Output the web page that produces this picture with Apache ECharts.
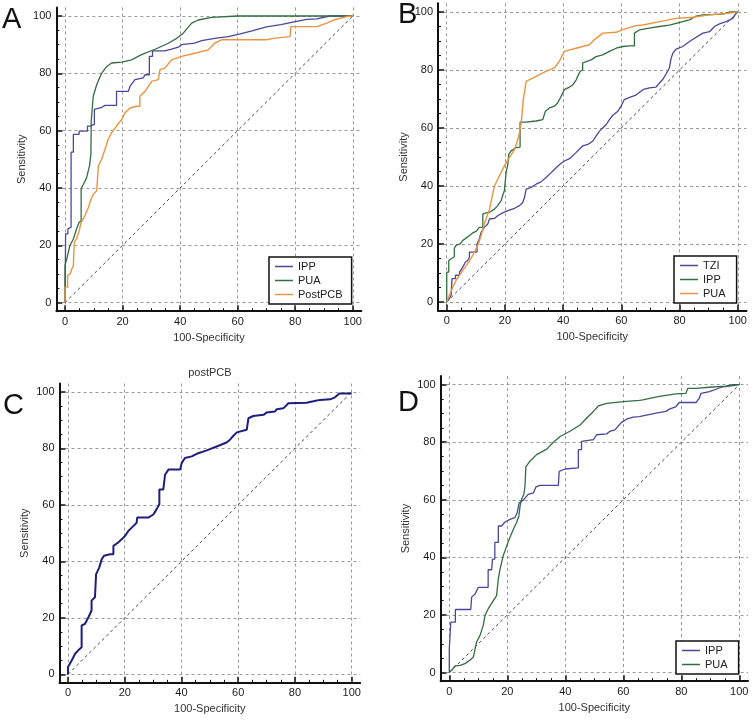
<!DOCTYPE html>
<html>
<head>
<meta charset="utf-8">
<script src="https://cdn.jsdelivr.net/npm/echarts@6/dist/echarts.min.js"></script>
<style>html,body{margin:0;padding:0;background:#fff}#c{width:753px;height:720px}</style>
</head>
<body>
<div id="c"></div>
<script>
// ---------- tick labels ----------
const majorTicks = [0, 20, 40, 60, 80, 100];
const minorTicks = [5, 10, 15, 25, 30, 35, 45, 50, 55, 65, 70, 75, 85, 90, 95];
const diagonal = [[0, 0], [100, 100]];
const panelLetters = ['A', 'B', 'C', 'D'];
const xAxisTitle = '100-Specificity';
const yAxisTitle = 'Sensitivity';
const panelCTitle = 'postPCB';

// ---------- Panel A ----------
const A_IPP = [[0,0],[0.2,0],[0.2,24],[1,24],[1,25.7],[2.1,26.3],[2.1,52.5],[2.9,52.5],[2.9,58.7],[4.9,58.7],[4.9,59.8],[7.8,59.8],[7.8,61.6],[8.7,61.6],[8.7,62.2],[10.2,62.2],[10.2,67.4],[12.5,68],[13.9,68.8],[17.9,68.8],[17.9,73.7],[22,73.7],[22.6,75.5],[24.3,77.8],[27.2,78.4],[27.8,79.5],[29.3,79.5],[29.3,85.9],[30.4,85.9],[30.4,87.8],[34.7,87.8],[37,88.4],[39.4,89.1],[40.5,90],[45,90.5],[47.5,91.4],[52,92.2],[56.7,92.8],[60.2,93.6],[65,94.8],[70,96.2],[75,97],[80,98],[84,98.8],[87.5,99],[87.5,99.5],[92,100],[100,100]];
const A_PUA = [[0,0],[0,13],[0.6,15.3],[1.7,19.9],[2.9,22.2],[4,25.7],[4.9,28],[5.6,28.5],[5.6,39.8],[6.4,41.3],[7.5,43.6],[8.5,47.7],[9,52],[9.1,63.3],[9.8,72],[11,76],[12.7,80],[14.5,82.4],[16.2,83.6],[19.7,83.9],[23.1,84.7],[26.6,86.5],[31.3,88.4],[35.9,90.5],[38.8,92.2],[41.1,94],[44,97.5],[46.3,98.6],[50.9,99.5],[60,100],[100,100]];
const A_PostPCB = [[0,0],[0,5.4],[0.9,5.4],[0.9,9.5],[1.7,10],[2.9,13],[3.2,13],[3.2,21],[4,22.2],[4.9,25],[5.6,28],[6.9,30.3],[8.1,33.2],[9,36],[9.8,37.8],[11,39],[11.6,39],[11.6,47.7],[12.7,50],[13.9,53.5],[15,57],[16.2,59.3],[17.9,61.6],[19.7,63.9],[20.8,66.2],[22.6,67.9],[24.9,68.5],[26,68.5],[26,72],[27.8,73.7],[30.1,77.2],[32.4,77.8],[33,77.8],[33,81.3],[34.7,81.8],[37,84.7],[40.5,85.9],[45.1,87],[49.8,88.2],[52,90.5],[54.4,91.7],[60.2,91.7],[70,91.7],[72.4,92.2],[78.2,92.8],[78.5,92.8],[78.5,96.3],[87.5,96.3],[91,97.5],[93.3,98.6],[97.9,99.8],[100,100]];

// ---------- Panel B ----------
const B_TZI = [[0,0],[0.9,1.1],[1.5,2.3],[1.8,2.3],[1.8,8],[3,8],[3,9.2],[4.4,9.2],[4.4,10.3],[5.5,12],[6.4,13.7],[7.2,14.3],[7.8,15.4],[7.8,17.2],[10.4,17.2],[10.4,20],[11.2,21.7],[11.8,24],[12.9,25.7],[14.1,26.9],[14.7,28.6],[16.4,28.8],[17.5,29.7],[19.2,30.7],[21,31.5],[23.3,32.3],[25,33.2],[26.1,34.3],[26.7,36],[27.3,38.9],[29,39.5],[30.7,40.6],[32.4,41.4],[34.1,42.9],[35.9,44.6],[37.6,46.3],[38.9,47.5],[40.4,48.6],[42.2,49.4],[44.4,51.5],[46.7,53.8],[48.5,54.3],[50.2,55.5],[51.3,57.2],[52.5,58.9],[53.6,60],[54.8,61.2],[55.9,62.9],[57,64.3],[58.8,65.8],[59.9,67.5],[61,69.8],[63.3,70.7],[64.8,71.2],[67.4,73.2],[69.6,73.8],[71.9,74.1],[73.1,75.5],[74.2,76.7],[75.4,78.7],[76.5,80.7],[77.1,80.7],[77.1,84.1],[77.7,85.8],[78.8,87.2],[81.1,88.1],[83.4,89.8],[85.7,91.3],[88,92.7],[90.3,93.2],[92,95],[93.7,95.9],[96,96.7],[98.3,97.8],[99.4,99.5],[100,100]];
const B_IPP = [[0,0],[0,10.3],[0.7,10.3],[0.7,14.3],[1.5,14.9],[2.6,15.5],[2.6,18.5],[3.2,19.5],[4.6,20],[5.5,21.2],[6.6,22],[7.8,22.9],[8.9,23.8],[10.1,24.3],[11.2,25.7],[12.4,25.7],[12.4,30.3],[13.5,30.7],[14.7,30.9],[15.2,31.5],[16.4,32],[17.5,33.2],[18.7,34.9],[19.2,36.6],[19.8,38.3],[20.4,38.3],[20.4,44.6],[21,47.5],[21.3,50.9],[22.1,52.1],[23.8,53.2],[25.2,53.4],[25.2,62],[27.3,62],[30.7,62.4],[33,62.9],[33.9,65.8],[35.3,66.9],[37,67.5],[38.1,68.6],[39.3,70.9],[40.4,73.2],[42.2,74.1],[43.3,74.9],[44.5,76.6],[45,77.8],[45.8,79.5],[46.7,80.1],[46.7,82.4],[47.9,82.9],[49.6,83.5],[51.3,84.6],[53.6,85.2],[55.9,86.4],[58.2,87.5],[60.5,88.1],[62.8,88.3],[64.5,88.3],[64.5,92.7],[66.2,93.8],[69.6,94.4],[73.1,95],[76.5,95.5],[78.8,96.1],[83.4,97.3],[85.7,98.6],[88,99],[94.8,99.3],[97.1,100],[100,100]];
const B_PUA = [[0,0],[0.9,2.3],[2.1,5.1],[3.2,7.4],[4.4,9.2],[5.5,10.9],[7.2,13.2],[8.9,16],[10.7,19.5],[11.8,22.9],[12.9,26.9],[14.7,32],[16.4,40],[18.1,43.5],[19.8,46.9],[21.5,49.8],[23.3,52.6],[24.4,56],[25,58.4],[25.6,61.8],[26.3,69.8],[27.3,76.1],[30.7,77.8],[34.1,79.5],[37,80.7],[38.7,83],[40.4,86.4],[44.4,87.5],[49,88.7],[50.7,90.4],[53.6,92.7],[58.2,93],[60.5,93.9],[65.1,95.3],[67.4,95.5],[73.1,96.7],[78.8,97.8],[84.5,98.2],[90.3,99],[96,99.5],[100,100]];

// ---------- Panel C ----------
const C_postPCB = [[0,0],[0,2.6],[0.7,3.2],[1.3,4.9],[2.5,7.3],[3.6,8.5],[4.8,9.6],[4.8,17.3],[6,17.9],[7.2,20.2],[8.3,22.6],[8.3,26.1],[9.5,27.3],[9.9,27.3],[9.9,35.5],[11,37.8],[11.9,40.8],[12.7,42],[14.8,42.5],[16,42.5],[16,45.5],[17.7,46.7],[18.9,47.8],[20.1,49],[21.3,50.8],[23,52.5],[24.2,53.7],[24.4,55.5],[28.3,55.5],[30.1,56.6],[31.3,58.6],[32.2,60.2],[32.2,65.5],[33.6,65.5],[34.2,70.7],[35.4,72.5],[39.5,72.5],[40.1,74.9],[41.2,76.6],[43.6,77.2],[45.4,78.1],[48.9,79.3],[52.4,80.7],[55.9,82.1],[57.1,83.1],[58.3,84.5],[59.5,85.7],[63,86.6],[63.6,90.7],[65.3,91.5],[68.9,91.9],[70,92.7],[73,93.1],[73.6,93.9],[75.9,94.2],[77.7,96],[84.1,96.2],[86.5,96.7],[88.8,97.2],[92.4,97.4],[94.1,98.1],[95.7,99.5],[100,99.5]];

// ---------- Panel D ----------
const D_IPP = [[0,0],[0,8.3],[0.5,8.3],[0.5,17.5],[2.1,17.5],[2.1,21.9],[7.4,21.9],[7.7,26.2],[8.9,27.3],[10,29.6],[13.4,29.6],[13.4,35.7],[14.6,35.7],[14.9,39.4],[15.7,39.4],[15.7,45.2],[16.9,45.2],[16.9,50.9],[18,50.9],[19.2,52.3],[20.9,53.2],[22.6,53.8],[23.4,55.5],[24.1,59],[25.5,59.9],[27.2,61.9],[29,62.4],[29.9,64.5],[31.3,65],[37.6,65],[37.9,69.9],[39.9,70.7],[44.5,71.1],[44.5,77.4],[45.6,77.4],[45.6,80.3],[49.7,80.9],[50.8,82.6],[54.3,82.9],[55.4,83.8],[57.1,84.3],[58.3,85.7],[59.4,86.9],[61.1,88],[63.4,88.7],[65.5,88.9],[71.3,90.1],[74.7,90.7],[75.9,91.5],[78.2,92.4],[79.3,93.8],[85.1,93.8],[86.2,95.3],[86.8,97],[89.7,97.6],[92,98.4],[93.7,99.1],[96.6,99.5],[100,100]];
const D_PUA = [[0,0],[0.8,0.8],[2,2.3],[3.7,2.5],[5.4,3.1],[7.1,4.3],[8.3,5.4],[8.9,8.3],[9.4,10.6],[10.6,12.9],[11.7,16.4],[12.3,19.8],[13.4,22.1],[15.2,25],[16.3,26.7],[16.9,32.5],[17.5,35.9],[18.6,40.6],[19.8,44],[20.9,46.9],[22.1,49.8],[23.2,52.1],[24,54.4],[24.4,57.8],[24.9,60.1],[25.7,61.9],[26.1,64.7],[26.4,71.4],[27.8,73.4],[30.1,75.7],[33.6,77.6],[35.9,80],[38.2,82],[41.6,83.8],[45.1,86],[47.4,88.4],[49.7,90.7],[51.4,92.6],[54.3,93.5],[60,94.1],[65.5,94.5],[66.7,94.7],[72.4,95.9],[78.2,96.8],[81.6,97],[82.2,98.7],[85.1,98.7],[89.7,99.1],[95.4,99.5],[97.7,100],[100,100]];

// ---------- styling / layout ----------
const FONT = '"Liberation Sans", Arial, sans-serif';
const BLUE = '#48489a', GREEN = '#336e40', ORANGE = '#ea9440', NAVY = '#1e1e7e';
const grids = [
  {left: 56.4, top: 7.4, width: 305.0, height: 303.8},
  {left: 438.0, top: 3.3, width: 308.5, height: 307.3},
  {left: 59.5, top: 383.5, width: 300.7, height: 299.3},
  {left: 440.6, top: 376.0, width: 307.4, height: 305.2}
];
const curves = [
  {panel: 0, name: 'A-IPP', data: A_IPP, color: BLUE, width: 1.3},
  {panel: 0, name: 'A-PUA', data: A_PUA, color: GREEN, width: 1.3},
  {panel: 0, name: 'A-PostPCB', data: A_PostPCB, color: ORANGE, width: 1.4},
  {panel: 1, name: 'B-TZI', data: B_TZI, color: BLUE, width: 1.3},
  {panel: 1, name: 'B-IPP', data: B_IPP, color: GREEN, width: 1.3},
  {panel: 1, name: 'B-PUA', data: B_PUA, color: ORANGE, width: 1.4},
  {panel: 2, name: 'C-postPCB', data: C_postPCB, color: NAVY, width: 2},
  {panel: 3, name: 'D-IPP', data: D_IPP, color: BLUE, width: 1.3},
  {panel: 3, name: 'D-PUA', data: D_PUA, color: GREEN, width: 1.3}
];
const legends = [
  {names: ['A-IPP', 'A-PUA', 'A-PostPCB'], left: 269, top: 257, padR: 9},
  {names: ['B-TZI', 'B-IPP', 'B-PUA'], left: 674, top: 256, padR: 11},
  {names: ['D-IPP', 'D-PUA'], left: 676, top: 641, padR: 11}
];
const letterPos = [[2, 20], [398, 15], [3, 406], [398, 403]];

const xAxes = [], yAxes = [], series = [];
grids.forEach((g, i) => {
  const base = {gridIndex: i, type: 'value', min: -3, max: 103};
  xAxes.push(Object.assign({}, base, {
    position: 'bottom',
    name: xAxisTitle, nameLocation: 'middle', nameGap: 21,
    nameTextStyle: {fontFamily: FONT, fontSize: 11, color: '#333'},
    axisLine: {show: true, onZero: false, lineStyle: {color: '#111', width: 2}},
    axisTick: {show: true, inside: true, length: 6, customValues: majorTicks, lineStyle: {color: '#111', width: 1.5}},
    axisLabel: {show: true, customValues: majorTicks, margin: 5, fontFamily: FONT, fontSize: 11, color: '#1a1a1a'},
    splitLine: {show: true, lineStyle: {type: [3, 3], color: '#9a9a9a', width: 1}}
  }));
  xAxes.push(Object.assign({}, base, {
    position: 'bottom',
    axisLine: {show: false, onZero: false},
    axisTick: {show: true, inside: true, length: 3, customValues: minorTicks, lineStyle: {color: '#111', width: 1}},
    axisLabel: {show: false}, splitLine: {show: false}
  }));
  yAxes.push(Object.assign({}, base, {
    min: -3, max: 103, position: 'left',
    name: yAxisTitle, nameLocation: 'middle', nameGap: 29,
    nameTextStyle: {fontFamily: FONT, fontSize: 11, color: '#333'},
    axisLine: {show: true, onZero: false, lineStyle: {color: '#111', width: 2}},
    axisTick: {show: true, inside: true, length: 6, customValues: majorTicks, lineStyle: {color: '#111', width: 1.5}},
    axisLabel: {show: true, customValues: majorTicks, margin: 5, fontFamily: FONT, fontSize: 11, color: '#1a1a1a'},
    splitLine: {show: true, lineStyle: {type: [3, 3], color: '#9a9a9a', width: 1}}
  }));
  yAxes.push(Object.assign({}, base, {
    position: 'left',
    axisLine: {show: false, onZero: false},
    axisTick: {show: true, inside: true, length: 3, customValues: minorTicks, lineStyle: {color: '#111', width: 1}},
    axisLabel: {show: false}, splitLine: {show: false}
  }));
  series.push({
    type: 'line', name: 'ref' + i, xAxisIndex: 2 * i, yAxisIndex: 2 * i,
    data: diagonal, symbol: 'none', silent: true, animation: false,
    lineStyle: {type: [3, 3], color: '#444', width: 1}, z: 1
  });
});
curves.forEach(c => {
  series.push({
    type: 'line', name: c.name, xAxisIndex: 2 * c.panel, yAxisIndex: 2 * c.panel,
    data: c.data, symbol: 'none', showSymbol: false, animation: false,
    color: c.color, lineStyle: {color: c.color, width: c.width}, z: 3
  });
});

const option = {
  animation: false,
  backgroundColor: '#fff',
  grid: grids.map(g => Object.assign({containLabel: false}, g)),
  xAxis: xAxes,
  yAxis: yAxes,
  legend: legends.map(l => ({
    data: l.names, left: l.left, top: l.top, orient: 'vertical',
    icon: 'rect', itemWidth: 18, itemHeight: 1.5, itemGap: 1,
    padding: [3, l.padR, 3, 6], borderColor: '#111', borderWidth: 1.5,
    backgroundColor: '#fff', selectedMode: false,
    textStyle: {fontFamily: FONT, fontSize: 11, lineHeight: 13, color: '#222'},
    formatter: n => n.split('-')[1]
  })),
  graphic: panelLetters.map((t, i) => ({
    type: 'text', x: letterPos[i][0], y: letterPos[i][1], z: 10,
    style: {text: t, font: '29px ' + FONT, fill: '#111', align: 'left', verticalAlign: 'middle'}
  })).concat([{
    type: 'text', x: grids[2].left + grids[2].width / 2, y: 373, z: 10,
    style: {text: panelCTitle, font: '11px ' + FONT, fill: '#333', align: 'center', verticalAlign: 'middle'}
  }]),
  series: series
};
const chart = echarts.init(document.getElementById('c'), null, {renderer: 'canvas'});
chart.setOption(option);
</script>
</body>
</html>
